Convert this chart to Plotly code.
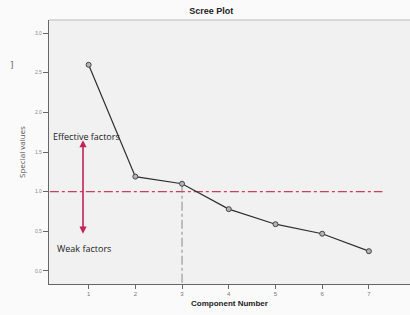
import plotly.graph_objects as go

components = [1, 2, 3, 4, 5, 6, 7]
eigenvalues = [2.60, 1.19, 1.10, 0.78, 0.59, 0.47, 0.25]
y_ticks = [0.0, 0.5, 1.0, 1.5, 2.0, 2.5, 3.0]
y_tick_labels = ["0.0", "0.5", "1.0", "1.5", "2.0", "2.5", "3.0"]
cutoff_value = 1.0
cutoff_component = 3
arrow_x = 0.88
arrow_top = 1.65
arrow_bottom = 0.45

fig = go.Figure()

# horizontal cut-off line
fig.add_trace(go.Scatter(
    x=[0.17, 7.29], y=[cutoff_value, cutoff_value], mode="lines",
    line=dict(color="#c8405e", width=1.2, dash="dashdot"),
    hoverinfo="skip", showlegend=False))
# vertical line at component 3
fig.add_trace(go.Scatter(
    x=[cutoff_component, cutoff_component], y=[eigenvalues[2], -0.17], mode="lines",
    line=dict(color="#8a8a8a", width=1, dash="dashdot"),
    hoverinfo="skip", showlegend=False))
# scree line
fig.add_trace(go.Scatter(
    x=components, y=eigenvalues, mode="lines+markers",
    line=dict(color="#2e2e2e", width=1.2),
    marker=dict(size=5, color="#b5b5b5", line=dict(color="#444444", width=1)),
    showlegend=False))

fig.add_annotation(x=arrow_x, y=arrow_top, ax=arrow_x, ay=arrow_bottom,
                   xref="x", yref="y", axref="x", ayref="y", text="",
                   showarrow=True, arrowhead=2, arrowside="end+start",
                   arrowsize=0.9, arrowwidth=1.6, arrowcolor="#c0245a")
fig.add_annotation(x=0.96, y=1.69, xref="x", yref="y", text="Effective factors",
                   showarrow=False, font=dict(family="Open Sans", size=9, color="#222222"))
fig.add_annotation(x=0.9, y=0.29, xref="x", yref="y", text="Weak factors",
                   showarrow=False, font=dict(family="Open Sans", size=9, color="#222222"))
fig.add_annotation(x=-0.114, y=0.856, xref="paper", yref="paper", text="]",
                   showarrow=False, font=dict(family="DejaVu Sans", size=9, color="#666666"))

fig.add_shape(type="line", xref="paper", yref="paper", x0=0, x1=1, y0=1, y1=1,
              line=dict(color="#bbbbbb", width=1))

fig.update_layout(
    width=410, height=315,
    margin=dict(l=49, r=0, t=20, b=31),
    paper_bgcolor="#fafafa", plot_bgcolor="#f1f1f1",
    title=dict(text="<b>Scree Plot</b>", x=0.515, xanchor="center", y=0.965, yanchor="middle",
               font=dict(family="Liberation Sans", size=9, color="#222222")),
    xaxis=dict(range=[0.152, 7.88], tickvals=components,
               ticktext=[str(c) for c in components],
               showgrid=False, zeroline=False, showline=True, linecolor="#666666", linewidth=1.2,
               ticks="outside", ticklen=4, tickcolor="#666666",
               tickfont=dict(family="Liberation Sans", size=6, color="#777777"),
               title=dict(text="<b>Component Number</b>", standoff=4,
                          font=dict(family="Liberation Sans", size=8, color="#222222"))),
    yaxis=dict(range=[-0.164, 3.165], tickvals=y_ticks, ticktext=y_tick_labels,
               showgrid=False, zeroline=False, showline=True, linecolor="#666666", linewidth=1.2,
               ticks="outside", ticklen=5, tickcolor="#666666",
               tickfont=dict(family="Liberation Sans", size=5, color="#888888"),
               title=dict(text="Special values", standoff=8,
                          font=dict(family="Open Sans", size=8, color="#555555"))),
)

fig.write_html("out.html", config={"displayModeBar": False},
               post_script="document.body.style.margin='0';document.body.style.overflow='hidden';")
